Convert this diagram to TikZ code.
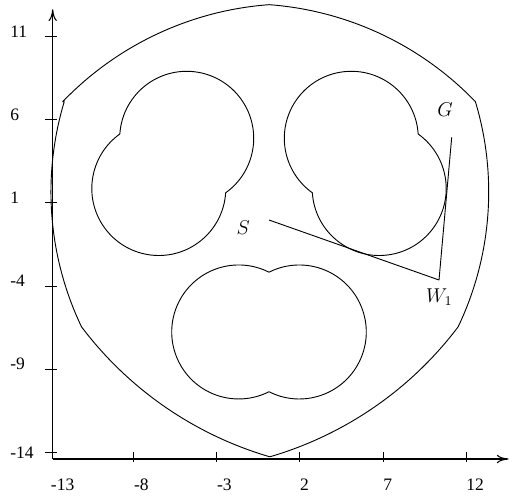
\documentclass[tikz,border=0pt]{standalone}
\usepackage{fontspec}
\setmainfont{Liberation Serif}
\usetikzlibrary{arrows.meta}
\begin{document}
\begin{tikzpicture}[x=0.6pt,y=0.6pt,
  curve/.style={line width=0.55pt, line join=round},
  axisline/.style={line width=0.65pt, -{To[length=7pt,width=5pt]}},
  tickmark/.style={line width=0.55pt},
  numlab/.style={anchor=base west, inner sep=0pt, font=\fontsize{10.5}{12}\selectfont},
  mathlab/.style={anchor=base, inner sep=0pt, font=\fontsize{11.5}{13}\selectfont}]
\useasboundingbox (0,0) rectangle (509,-496);

% axes
\coordinate (O) at (52.7,-459);
\coordinate (ytop) at (52.7,-9.3);
\coordinate (xend) at (508.5,-459);
\draw[axisline] (O) -- (ytop);
\draw[axisline] (O) -- (xend);

% y ticks and labels
\foreach \v/\k in {11/0,6/1,1/2,-4/3,-9/4}{
  \coordinate (yt\k) at (45,-36.7-83.12*\k);
  \draw[tickmark] (yt\k) -- ++(11.5,0);
  \node[numlab] (yl\k) at (10,-37.2-83.12*\k) {\v};
}
\coordinate (yt5) at (45,-452.3);
\draw[tickmark] (yt5) -- ++(11.5,0);
\node[numlab] (yl5) at (10,-458) {-14};

% x ticks and labels
\node[numlab] (xl0) at (50.6,-490) {-13};
\foreach \v/\k in {-8/1,-3/2,2/3,7/4,12/5}{
  \coordinate (xt\k) at (50.6+83.1*\k,-452);
  \draw[tickmark] (xt\k) -- ++(0,-10);
  \node[numlab] (xl\k) at (50.6+83.1*\k,-490) {\v};
}

% outer boundary
\draw[curve] (62.7,-101.7)
  arc[start angle=136.14, end angle=94.23, radius=318.8]
  arc[start angle=85.77, end angle=43.86, radius=318.8]
  arc[start angle=16.76, end angle=-25.54, radius=312.9]
  arc[start angle=-37.04, end angle=-73.72, radius=363.6]
  arc[start angle=253.72, end angle=217.04, radius=363.6]
  arc[start angle=205.54, end angle=163.24, radius=312.9] -- cycle;

% bottom obstacle
\draw[curve] (269,-272.2)
  arc[start angle=63.13, end angle=296.87, radius=67]
  arc[start angle=-116.87, end angle=116.87, radius=67] -- cycle;

% upper-left obstacle
\draw[curve] (225.66,-192.8)
  arc[start angle=-54.44, end angle=176.32, radius=67]
  arc[start angle=125.56, end angle=356.32, radius=67] -- cycle;

% upper-right obstacle
\draw[curve] (418.16,-134.0)
  arc[start angle=3.68, end angle=234.44, radius=67]
  arc[start angle=183.68, end angle=414.44, radius=67] -- cycle;

% path
\coordinate (S) at (269,-220);
\coordinate (W1) at (439,-280);
\coordinate (G) at (451.7,-137.3);
\draw[curve] (S) -- (W1) -- (G);
\node[mathlab] (Slab) at (243.3,-234) {$S$};
\node[mathlab] (Glab) at (445,-116) {$G$};
\node[mathlab] (Wlab) at (439.3,-302.5) {$W_1$};
\end{tikzpicture}
\end{document}
